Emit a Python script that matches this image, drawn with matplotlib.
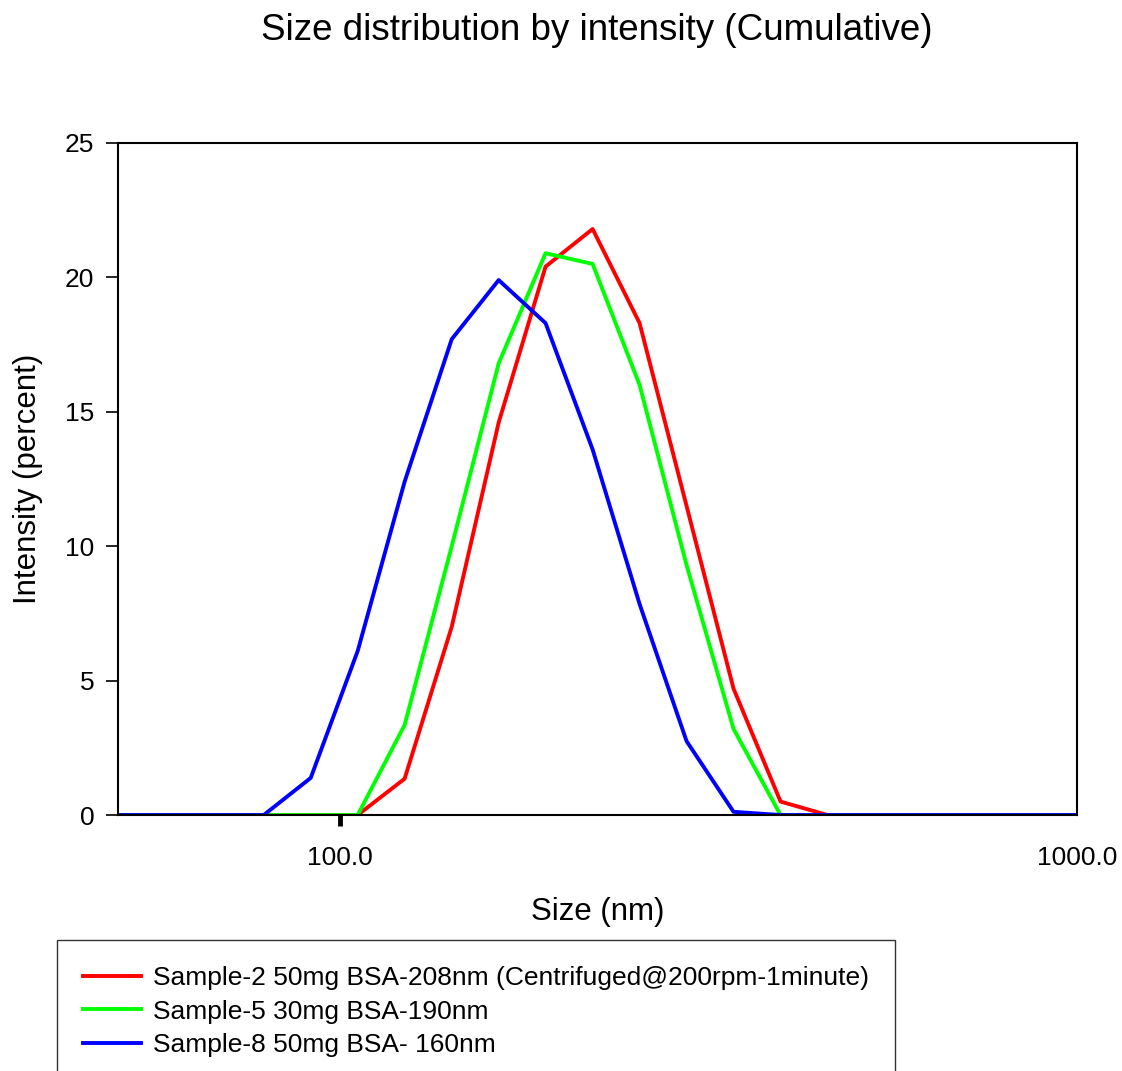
import matplotlib.pyplot as plt
import numpy as np

plt.rcParams["font.family"] = ["Liberation Sans", "DejaVu Sans"]

# DLS size bins (nm)
sizes = [43.82, 50.75, 58.77, 68.06, 78.82, 91.28, 105.7, 122.4, 141.8, 164.2,
         190.1, 220.2, 255.0, 295.3, 342.0, 396.1, 458.7, 531.2, 615.1,
         712.4, 825.0, 955.4, 1106.0]

sample2 = [0, 0, 0, 0, 0, 0, 0, 1.35, 7.0, 14.6, 20.4, 21.8, 18.3, 11.5,
           4.7, 0.5, 0, 0, 0, 0, 0, 0, 0]
sample5 = [0, 0, 0, 0, 0, 0, 0, 3.35, 10.0, 16.8, 20.9, 20.5, 16.0, 9.3,
           3.2, 0, 0, 0, 0, 0, 0, 0, 0]
sample8 = [0, 0, 0, 0, 0, 1.38, 6.1, 12.4, 17.7, 19.9, 18.3, 13.6, 7.85,
           2.75, 0.12, 0, 0, 0, 0, 0, 0, 0, 0]

labels = ["Sample-2 50mg BSA-208nm (Centrifuged@200rpm-1minute)",
          "Sample-5 30mg BSA-190nm",
          "Sample-8 50mg BSA- 160nm"]


def main():
    fig = plt.figure(figsize=(11.22, 10.71), dpi=100)
    ax = fig.add_axes([0.1052, 0.239, 0.8547, 0.6275])

    ax.plot(sizes, sample2, color="#ff0000", lw=2.8, label=labels[0])
    ax.plot(sizes, sample5, color="#00ff00", lw=2.8, label=labels[1])
    ax.plot(sizes, sample8, color="#0000ff", lw=2.8, label=labels[2])

    ax.set_xscale("log")
    ax.set_xlim(50, 1000)
    ax.set_ylim(0, 25)
    ax.set_xticks([100, 1000])
    ax.set_xticklabels(["100.0", "1000.0"])
    ax.minorticks_off()
    ax.set_yticks([0, 5, 10, 15, 20, 25])
    ax.tick_params(axis="x", direction="out", length=8, width=3.5,
                   pad=14, labelsize=19)
    ax.tick_params(axis="y", direction="out", length=9, width=1.2,
                   pad=8, labelsize=19)
    # no visible tick mark at the right-hand edge
    ax.xaxis.get_major_ticks()[1].tick1line.set_visible(False)
    for s in ax.spines.values():
        s.set_linewidth(1.5)

    ax.set_xlabel("Size (nm)", fontsize=22.5, labelpad=20)
    ax.set_ylabel("Intensity (percent)", fontsize=22.5, labelpad=16)
    fig.suptitle("Size distribution by intensity (Cumulative)",
                 fontsize=26.5, x=0.532, y=0.988)

    leg = fig.legend(loc="upper left", bbox_to_anchor=(0.0508, 0.1223),
                     borderaxespad=0, fontsize=19, frameon=True,
                     fancybox=False, edgecolor="black",
                     handlelength=2.2, handletextpad=0.45, borderpad=0.98,
                     labelspacing=0.37)
    leg.get_frame().set_linewidth(1.0)

    plt.savefig("out.png", dpi=100)


if __name__ == "__main__":
    main()
